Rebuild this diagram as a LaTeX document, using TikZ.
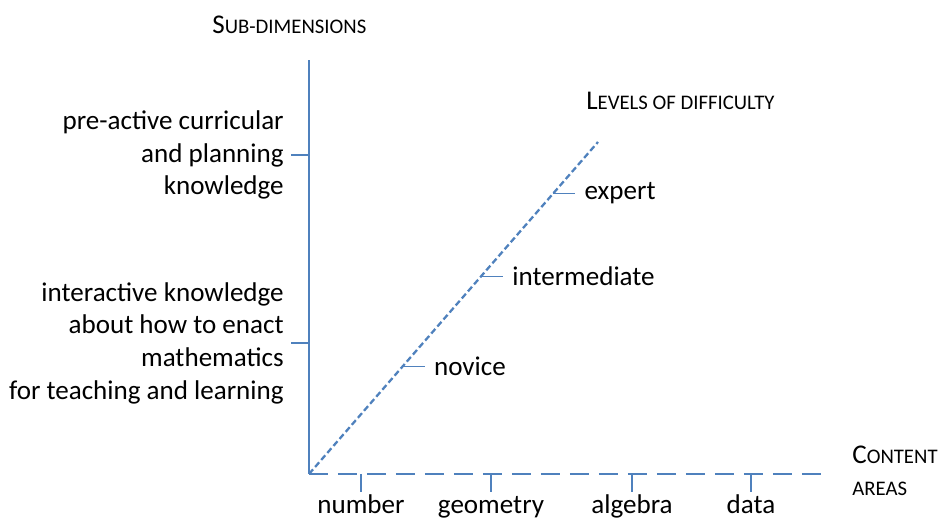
\documentclass[tikz,border=0pt]{standalone}
\usepackage{fontspec}
\setmainfont{Carlito}
\usepackage{tikz}
\usetikzlibrary{positioning}
\definecolor{axisblue}{RGB}{79,129,189}
\newcommand{\capsmall}[2]{#1{\fontsize{11.8}{13}\selectfont #2}}

\begin{document}
\begin{tikzpicture}[x=0.02cm,y=-0.02cm]
	\tikzstyle{every node}=[inner sep=0pt,font=\fontsize{15.4}{18.6}\selectfont]
	\tikzstyle{axis}=[draw=axisblue,line width=1.3pt]
	\tikzstyle{tick}=[draw=axisblue,line width=0.6pt]
	\useasboundingbox (0,0) rectangle (938,519);
	% axes
	\coordinate (o) at (309,474);
	\coordinate (ytop) at (309,60);
	\coordinate (xend) at (827,474);
	\coordinate (dend) at (598,142);
	\draw [axis] (o) -- (ytop);
	\draw [axis,dash pattern=on 11pt off 5.5pt] (o) -- (xend);
	\draw [axis,dash pattern=on 3.5pt off 1.8pt] (o) -- (dend);
	% axis titles
	\node[anchor=west] (sub) at (212,25) {\capsmall{S}{UB-DIMENSIONS}};
	\node[anchor=west] (lev) at (586,101) {\capsmall{L}{EVELS OF DIFFICULTY}};
	\node[anchor=west] (cont) at (852,455) {\capsmall{C}{ONTENT}};
	\node[anchor=west] (areas) at (852,489) {\fontsize{11.8}{13}\selectfont AREAS};
	% sub-dimensions
	\coordinate (y1) at (309,155);
	\coordinate (y2) at (309,343);
	\node[anchor=east,align=right] (pre) at (284,155) {pre-active curricular\\and planning\\knowledge};
	\node[anchor=east,align=right] (inter) at (284,343) {interactive knowledge\\about how to enact\\mathematics\\for teaching and learning};
	\draw [tick] (y1) -- (y1 -| 291,0);
	\draw [tick] (y2) -- (y2 -| 291,0);
	% content areas
	\foreach \x/\name in {361/number,491/geometry,632/algebra,751/data} {
		\coordinate (c\name) at (\x,474);
		\node[anchor=base] (\name) at (\x,514) {\name};
		\draw [tick] (c\name) -- ++(0,18);
	}
	% levels
	\foreach \t/\name in {0.325/novice,0.596/intermediate,0.846/expert} {
		\path (o) -- (dend) coordinate[pos=\t] (d\name);
		\draw [tick] (d\name) -- ++(22,0) coordinate (e\name);
		\node[anchor=west] (\name) at ([xshift=5pt]e\name) {\name};
	}
\end{tikzpicture}
\end{document}
